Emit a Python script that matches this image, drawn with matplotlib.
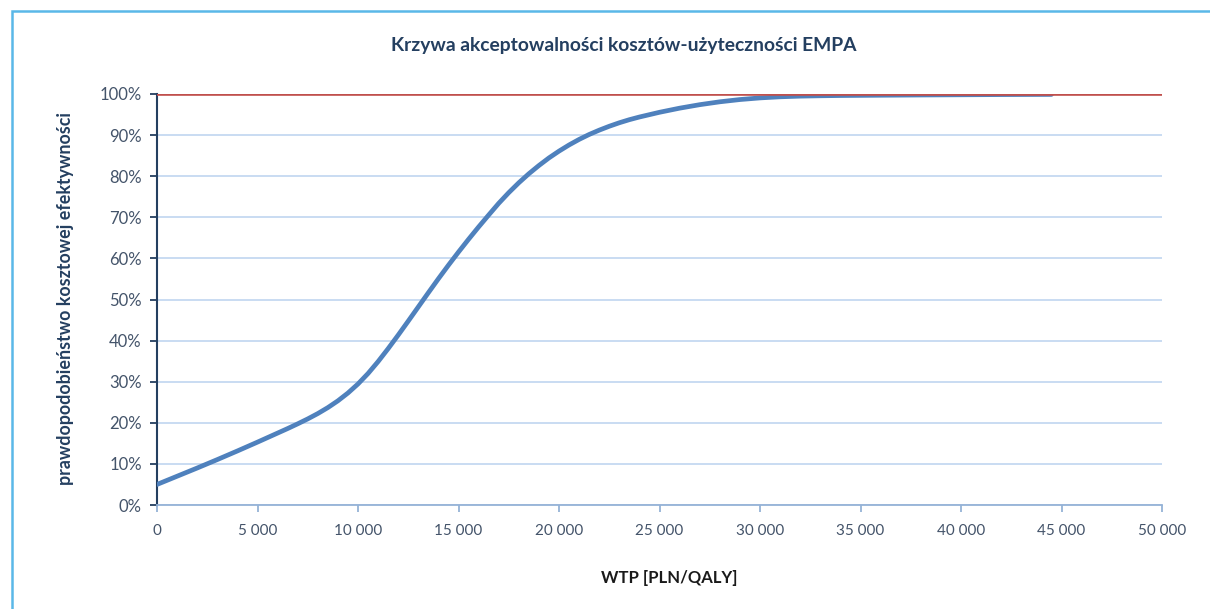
import matplotlib
matplotlib.use("Agg")
import matplotlib.pyplot as plt
from matplotlib.patches import Rectangle
from matplotlib.ticker import FuncFormatter, MultipleLocator

plt.rcParams['font.family'] = ['Lato', 'DejaVu Sans']

# WTP thresholds [PLN/QALY] and probability of cost-effectiveness [%]
wtp = [0, 1000, 2000, 3000, 4000, 5000, 6000, 6500, 7000, 7500,
       8000, 8500, 9000, 9500, 10000, 10500, 11000, 11500, 12000, 12500,
       13000, 13500, 14000, 14500, 15000, 15500, 16000, 16500, 17000, 17500,
       18000, 18500, 19000, 19500, 20000, 20500, 21000, 21500, 22000, 22500,
       23000, 23500, 24000, 25000, 26000, 27000, 28000, 29000, 30000, 31000,
       32000, 33000, 34000, 36000, 38000, 40000, 42000, 44500]
prob = [5.0, 7.0, 9.0, 11.05, 13.15, 15.3, 17.5, 18.6, 19.75, 20.95,
        22.25, 23.7, 25.35, 27.25, 29.45, 32.0, 34.9, 38.05, 41.35, 44.75,
        48.2, 51.65, 55.05, 58.35, 61.55, 64.65, 67.65, 70.55, 73.4, 76.0,
        78.4, 80.6, 82.6, 84.45, 86.1, 87.6, 88.95, 90.15, 91.2, 92.15,
        93.0, 93.75, 94.4, 95.55, 96.55, 97.4, 98.1, 98.65, 99.05, 99.32,
        99.48, 99.57, 99.63, 99.7, 99.76, 99.81, 99.86, 99.9]
ref_x = [0, 50000]
ref_y = [100, 100]

title = "Krzywa akceptowalności kosztów-użyteczności EMPA"
xlabel = "WTP [PLN/QALY]"
ylabel = "prawdopodobieństwo kosztowej efektywności"

navy = '#243F60'
tick_col = '#44546A'
grid_col = '#C5D9F1'

fig = plt.figure(figsize=(12.1, 6.09), dpi=100)
ax = fig.add_axes([157 / 1210, 1 - 505 / 609, (1162 - 157) / 1210, (505 - 94) / 609])

ax.plot(wtp, prob, color='#4F81BD', lw=3.4, solid_capstyle='round',
        solid_joinstyle='round', zorder=3)
ax.plot(ref_x, ref_y, color='#C0504D', lw=1.9, zorder=4)

ax.set_xlim(0, 50000)
ax.set_ylim(0, 100)
ax.xaxis.set_major_locator(MultipleLocator(5000))
ax.yaxis.set_major_locator(MultipleLocator(10))
ax.xaxis.set_major_formatter(FuncFormatter(lambda v, p: f"{int(v):,}".replace(',', ' ')))
ax.yaxis.set_major_formatter(FuncFormatter(lambda v, p: f"{int(v)}%"))

ax.grid(axis='y', color=grid_col, lw=1.3)
ax.set_axisbelow(True)
for s in ['top', 'right']:
    ax.spines[s].set_visible(False)
ax.spines['left'].set_color(navy)
ax.spines['left'].set_linewidth(1.5)
ax.spines['bottom'].set_color('#95B3D7')
ax.spines['bottom'].set_linewidth(1.3)

ax.tick_params(axis='y', colors=navy, length=5, width=1.3, labelsize=12,
               labelcolor=tick_col, pad=6)
ax.tick_params(axis='x', colors='#95B3D7', length=5, width=1.3, labelsize=11,
               labelcolor=tick_col, pad=9)

fig.text(624 / 1210, 1 - 46 / 609, title, ha='center', va='center',
         fontsize=13.9, fontweight='bold', color=navy)
fig.text(669 / 1210, 1 - 578 / 609, xlabel, ha='center', va='center',
         fontsize=12, fontweight='bold', color='#1a1a1a')
fig.text(66 / 1210, 1 - 298 / 609, ylabel, ha='center', va='center',
         rotation=90, fontsize=12.9, fontweight='bold', color=navy)

# chart frame, open at right and bottom
fig.patches.append(Rectangle((12 / 1210, -0.1), 1.2, 1 - 11 / 609 + 0.1,
                             transform=fig.transFigure, fill=False,
                             edgecolor='#5AB8E8', lw=1.8))

fig.savefig('out.png', dpi=100)
